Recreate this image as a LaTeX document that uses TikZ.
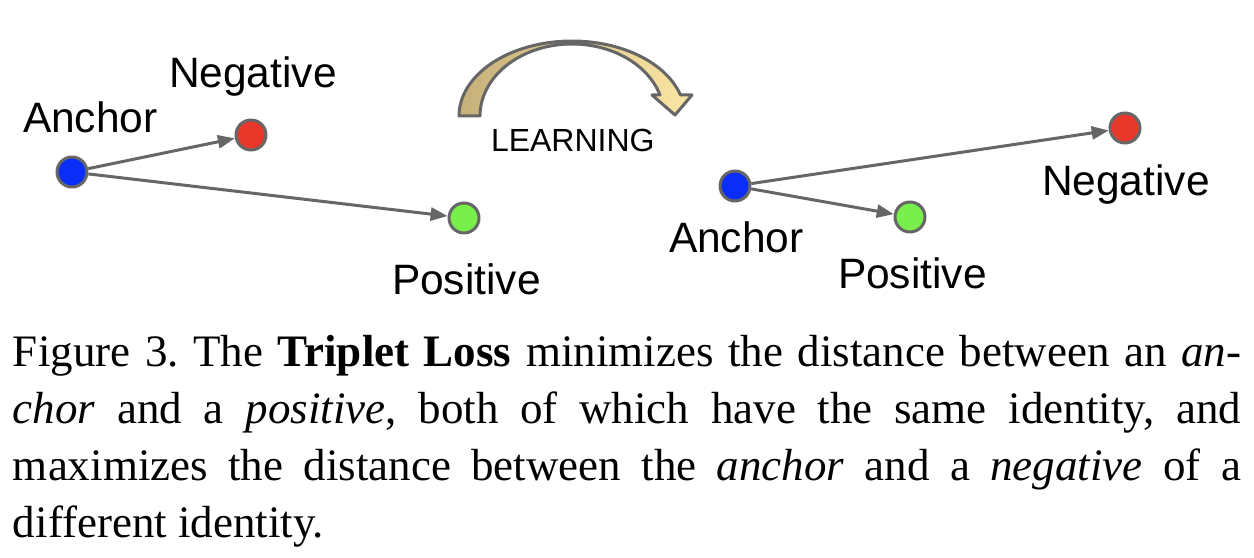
\documentclass[tikz,border=0pt]{standalone}
\usepackage{fontspec}
\setmainfont{Liberation Serif}
\setsansfont{Liberation Sans}
\usetikzlibrary{arrows.meta}
\setlength\parindent{0pt}
\frenchspacing
\definecolor{ancblue}{HTML}{0A2EF7}
\definecolor{negred}{HTML}{E8382A}
\definecolor{posgreen}{HTML}{78EF4B}
\definecolor{edgegray}{HTML}{666666}
\definecolor{arckhaki}{HTML}{C6B07A}
\definecolor{arccream}{HTML}{FBE6A4}
\tikzset{
  pt/.style={circle, draw=edgegray, line width=0.6pt, minimum size=6pt, inner sep=0pt},
  lbl/.style={font=\sffamily\fontsize{8.5}{10}\selectfont, inner sep=0pt, anchor=base west},
  conn/.style={->, draw=edgegray, line width=0.6pt},
}
\begin{document}
\begin{tikzpicture}[x=0.2pt, y=-0.2pt, line join=round, >={Triangle[length=3.4pt,width=2.6pt]}]
			\useasboundingbox (0,0) rectangle (1254,558);
			% before learning
			\node[pt, fill=ancblue] (a1) at (72,172) {};
			\node[pt, fill=negred] (n1) at (251,135) {};
			\node[pt, fill=posgreen] (p1) at (464,218) {};
			\node[lbl] (a1t) at (22,133) {Anchor};
			\node[lbl] (n1t) at (168,88) {Negative};
			\node[lbl] (p1t) at (391,295) {Positive};
			\draw[conn] (a1) -- (n1);
			\draw[conn] (a1) -- (p1);
			% learning arrow
			\shadedraw[left color=arckhaki, right color=arccream, draw=edgegray, line width=0.6pt]
			plot[domain=180:16.26, samples=60] ({572+113*cos(\x)},{116-75*sin(\x)})
			-- (692,95) -- (675,115) -- (652,95)
			-- plot[domain=16.96:180, samples=60] ({572+92*cos(\x)},{116-72*sin(\x)}) -- cycle;
			\node[lbl, font=\sffamily\fontsize{6.4}{8}\selectfont] (learn) at (490,152) {LEARNING};
			% after learning
			\node[pt, fill=ancblue] (a2) at (735,186) {};
			\node[pt, fill=posgreen] (p2) at (910,217) {};
			\node[pt, fill=negred] (n2) at (1125,128) {};
			\node[lbl] (a2t) at (668,253) {Anchor};
			\node[lbl] (p2t) at (837,289) {Positive};
			\node[lbl] (n2t) at (1041,196) {Negative};
			\draw[conn] (a2) -- (n2);
			\draw[conn] (a2) -- (p2);
			% caption
			\node[anchor=north west, inner sep=0pt, text width=245.6pt, align=justify,
			  font=\fontsize{9}{11.4}\selectfont] (cap) at (12,334)
			{Figure 3. The \textbf{Triplet Loss} minimizes the distance between an \emph{an-}\linebreak
			\emph{chor} and a \emph{positive}, both of which have the same identity, and\linebreak
			maximizes the distance between the \emph{anchor} and a \emph{negative} of a\linebreak
			different identity.};
		\end{tikzpicture}
\end{document}
